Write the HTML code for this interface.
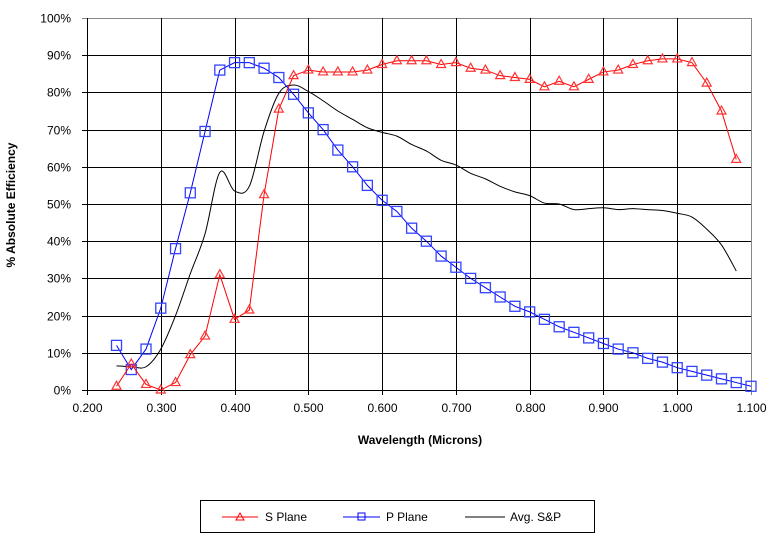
<!DOCTYPE html>
<html><head><meta charset="utf-8"><style>
body{margin:0;background:#fff;width:775px;height:543px;overflow:hidden;font-family:"Liberation Sans",sans-serif}
</style></head><body>
<svg id="chart" width="775" height="543" xmlns="http://www.w3.org/2000/svg" font-family="Liberation Sans, sans-serif">
<g id="grid"></g>
<g id="ticks" font-size="12" fill="#000"></g>
<g id="series"></g>
<text x="420" y="444" text-anchor="middle" font-size="12" font-weight="bold">Wavelength (Microns)</text>
<text transform="translate(15,205) rotate(-90)" text-anchor="middle" font-size="12" font-weight="bold">% Absolute Efficiency</text>
<g>
<rect x="200.5" y="500.5" width="394" height="32" fill="#fff" stroke="#000" stroke-width="1"/>
<g>
<line x1="222" y1="517" x2="258" y2="517" stroke="#f00"/><path d="M240 513 L244 520 L236 520 Z" fill="none" stroke="#f00"/>
<text x="265" y="521" font-size="12">S Plane</text></g>
<g>
<line x1="343" y1="517" x2="380" y2="517" stroke="#00f"/><rect x="358" y="513" width="7" height="7" fill="none" stroke="#00f"/>
<text x="386" y="521" font-size="12">P Plane</text></g>
<g>
<line x1="465" y1="517" x2="505" y2="517" stroke="#000"/>
<text x="510" y="521" font-size="12">Avg. S&amp;P</text></g>
</g>
</svg>
<script>
const xTicks=[0.2,0.3,0.4,0.5,0.6,0.7,0.8,0.9,1.0,1.1];
const xTickLabels=["0.200","0.300","0.400","0.500","0.600","0.700","0.800","0.900","1.000","1.100"];
const yTicks=[0,10,20,30,40,50,60,70,80,90,100];
const yTickLabels=["0%","10%","20%","30%","40%","50%","60%","70%","80%","90%","100%"];
const sX=[0.24,0.26,0.28,0.30,0.32,0.34,0.36,0.38,0.40,0.42,0.44,0.46,0.48,0.50,0.52,0.54,0.56,0.58,0.60,0.62,0.64,0.66,0.68,0.70,0.72,0.74,0.76,0.78,0.80,0.82,0.84,0.86,0.88,0.90,0.92,0.94,0.96,0.98,1.00,1.02,1.04,1.06,1.08];
const sY=[1,7,1.5,0,2,9.5,14.5,31,19,21.5,52.5,75.5,84.5,86,85.5,85.5,85.5,86,87.5,88.5,88.5,88.5,87.5,88,86.5,86,84.5,84,83.5,81.5,83,81.5,83.5,85.5,86,87.5,88.5,89,89,88,82.5,75,62];
const pX=[0.24,0.26,0.28,0.30,0.32,0.34,0.36,0.38,0.40,0.42,0.44,0.46,0.48,0.50,0.52,0.54,0.56,0.58,0.60,0.62,0.64,0.66,0.68,0.70,0.72,0.74,0.76,0.78,0.80,0.82,0.84,0.86,0.88,0.90,0.92,0.94,0.96,0.98,1.00,1.02,1.04,1.06,1.08,1.10];
const pY=[12,5.5,11,22,38,53,69.5,86,88,88,86.5,84,79.5,74.5,70,64.5,60,55,51,48,43.5,40,36,33,30,27.5,25,22.5,21,19,17,15.5,14,12.5,11,10,8.5,7.5,6,5,4,3,2,1];
const avgX=sX;
const avgY=[6.5,6.25,6.25,11,20,31.25,42,58.5,53.5,54.75,69.5,79.75,82,80.25,77.75,75,72.75,70.5,69.25,68.25,66,64.25,61.75,60.5,58.25,56.75,54.75,53.25,52.25,50.25,50,48.5,48.75,49,48.5,48.75,48.5,48.25,47.5,46.5,43.25,39,32];

const L=87,R=751,T=18,B=390;
const xs=v=>L+(v-0.2)/(0.9)*(R-L);
const ys=v=>B-v/100*(B-T);
const NS="http://www.w3.org/2000/svg";
function mk(tag,attrs,parent){const e=document.createElementNS(NS,tag);for(const k in attrs)e.setAttribute(k,attrs[k]);parent.appendChild(e);return e;}
const grid=document.getElementById('grid'),ticks=document.getElementById('ticks'),series=document.getElementById('series');
yTicks.forEach((t,i)=>{
  const y=Math.round(ys(t))+0.5;
  const ln=mk('line',{x1:L-5,x2:R,y1:y,y2:y,stroke:t===100?'#888':'#000','stroke-width':1},grid);
  
  
  const tx=mk('text',{x:L-16,y:y+4,'text-anchor':'end'},ticks);
  
  
  tx.textContent=yTickLabels[i];
});
xTicks.forEach((t,i)=>{
  const x=Math.round(xs(t))+0.5;
  const last=i===xTicks.length-1;
  const ln=mk('line',{x1:x,x2:x,y1:T,y2:B+5,stroke:last?'#888':'#000','stroke-width':1},grid);
  
  
  const tx=mk('text',{x:x,y:B+22,'text-anchor':'middle'},ticks);
  
  
  tx.textContent=xTickLabels[i];
});
(function(){
  const p=avgX.map((v,i)=>[xs(v),ys(avgY[i])]);
  let d='M'+p[0][0]+' '+p[0][1];
  for(let i=0;i<p.length-1;i++){
    const p0=p[Math.max(0,i-1)],p1=p[i],p2=p[i+1],p3=p[Math.min(p.length-1,i+2)];
    const c1=[p1[0]+(p2[0]-p0[0])/6,p1[1]+(p2[1]-p0[1])/6];
    const c2=[p2[0]-(p3[0]-p1[0])/6,p2[1]-(p3[1]-p1[1])/6];
    d+=' C'+c1[0]+' '+c1[1]+' '+c2[0]+' '+c2[1]+' '+p2[0]+' '+p2[1];
  }
  const e=mk('path',{d:d,fill:'none',stroke:'#000','stroke-width':1},series);
  
  
})();
(function(){
  const pts=pX.map((v,i)=>xs(v)+','+ys(pY[i])).join(' ');
  const e=mk('polyline',{points:pts,fill:'none',stroke:'#00f','stroke-width':1},series);
  
  
  pX.forEach((v,i)=>{
    const m=mk('rect',{x:xs(v)-5,y:ys(pY[i])-5,width:10,height:10,fill:'none',stroke:'#3344ff','stroke-width':1.3},series);
    
    
  });
})();
(function(){
  const pts=sX.map((v,i)=>xs(v)+','+ys(sY[i])).join(' ');
  const e=mk('polyline',{points:pts,fill:'none',stroke:'#f00','stroke-width':1},series);
  
  
  sX.forEach((v,i)=>{
    const x=xs(v),y=ys(sY[i]);
    const m=mk('path',{d:`M${x} ${y-5} L${x+4.5} ${y+3} L${x-4.5} ${y+3} Z`,fill:'none',stroke:'#f33','stroke-width':1.2},series);
    
    
  });
})();
</script>
</body></html>
